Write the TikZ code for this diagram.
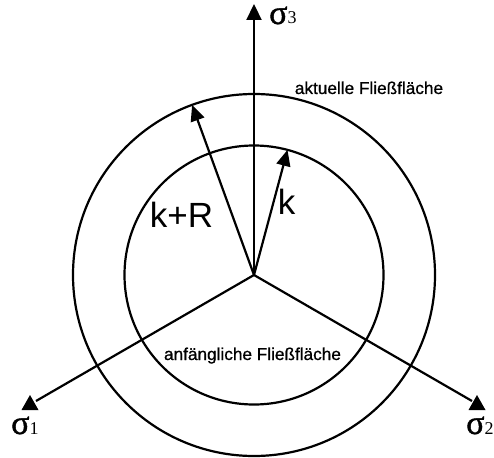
\documentclass[tikz,border=0pt]{standalone}
\usepackage{fontspec}
\setmainfont{Liberation Sans}
\newfontfamily\heavysans[FakeBold=0.8]{Liberation Sans}
\newfontfamily\sigfont[FakeBold=1.2]{Liberation Serif}
\newfontfamily\digfont{Liberation Serif}
\usetikzlibrary{arrows.meta}
\tikzset{
  line/.style={line width=2.2bp},
  radarrow/.style={line, -{Triangle[length=16bp,width=14bp]}},
  axisarrow/.style={line, -{Triangle[length=16bp,width=15bp]}},
  smalllabel/.style={inner sep=0pt, font=\heavysans\fontsize{17.2bp}{20bp}\selectfont},
  biglabel/.style={inner sep=0pt, font=\fontsize{35bp}{40bp}\selectfont},
  siglabel/.style={inner sep=0pt, anchor=base west},
  uptri/.style={fill=black}
}
\newcommand{\sig}[1]{{\sigfont\fontsize{34bp}{34bp}\selectfont σ}{\digfont\fontsize{18bp}{18bp}\selectfont #1}}
\begin{document}
\begin{tikzpicture}[x=1bp,y=-1bp]
\useasboundingbox (0,0) rectangle (494,458);
\coordinate (O) at (254,275);
% circles
\node[line, draw, circle, minimum size=362bp, inner sep=0pt] (outer) at (O) {};
\node[line, draw, circle, minimum size=259bp, inner sep=0pt] (inner) at (O) {};
% axes
\coordinate (s3tip) at (254,4);
\coordinate (s1end) at (36,401);
\coordinate (s2end) at (472,401);
\coordinate (s1tip) at (30,395);
\coordinate (s2tip) at (477,395);
\draw[axisarrow] (O) -- (s3tip);
\draw[line] (O) -- (s1end);
\draw[line] (O) -- (s2end);
\fill[uptri] (s1tip) -- ++(-8.5,15) -- ++(17,0) -- cycle;
\fill[uptri] (s2tip) -- ++(-8.5,15) -- ++(17,0) -- cycle;
% radius arrows
\coordinate (kRtip) at (192.1,104.9);
\coordinate (ktip) at (287.5,149.9);
\draw[radarrow] (O) -- (kRtip);
\draw[radarrow] (O) -- (ktip);
% labels
\node[biglabel, anchor=base] (lkR) at (181.5,228) {k+R};
\node[biglabel, anchor=base] (lk) at (286.5,215) {k};
\node[smalllabel, anchor=base] (lakt) at (369,94) {aktuelle Fließfläche};
\node[smalllabel, anchor=base] (lanf) at (252.5,360) {anfängliche Fließfläche};
\node[siglabel] (ls3) at (269,24) {\sig{3}};
\node[siglabel] (ls1) at (11,434) {\sig{1}};
\node[siglabel] (ls2) at (466,434) {\sig{2}};
\end{tikzpicture}
\end{document}
